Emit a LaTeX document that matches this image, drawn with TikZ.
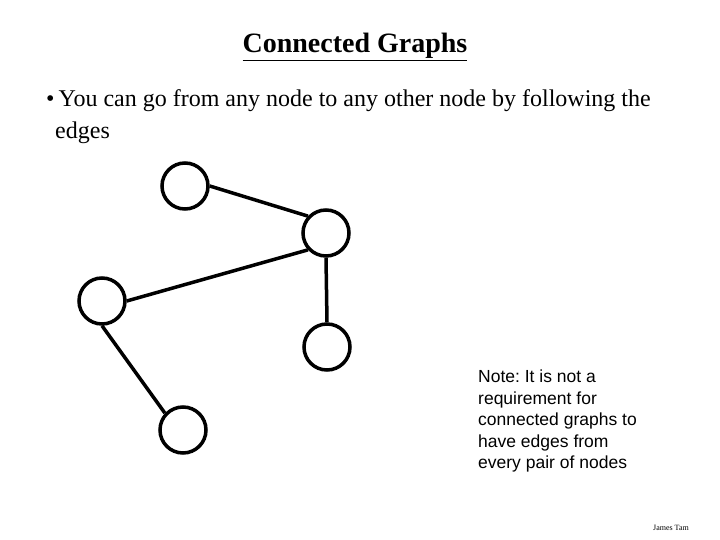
\documentclass[tikz,border=0pt]{standalone}
\usepackage{fontspec}
\setmainfont{Liberation Serif}
\newfontfamily\notefont{Liberation Sans}
\usetikzlibrary{positioning}
\frenchspacing

\begin{document}
\begin{tikzpicture}[x=1pt, y=-1pt,
    vertex/.style={draw, circle, line width=3.5pt, minimum size=46pt, inner sep=0pt},
    edge/.style={line width=3.5pt}]
    \useasboundingbox (0,0) rectangle (720,540);

    % Text
    \node[anchor=base] (title) at (355,53) {\fontsize{28}{32}\selectfont\bfseries\underline{Connected Graphs}};
    \node[anchor=base west, inner sep=0pt] (line1) at (46,107) {\fontsize{24}{28}\selectfont\textbullet\,You can go from any node to any other node by following the};
    \node[anchor=base west, inner sep=0pt] (line2) at (55,139) {\fontsize{24}{28}\selectfont edges};
    \node[anchor=north west, align=left, inner sep=0pt,
        font=\notefont\fontsize{17.5}{21.5}\selectfont] (note) at (478,370)
        {Note: It is not a\\requirement for\\connected graphs to\\have edges from\\every pair of nodes};
    \node[anchor=base, inner sep=0pt] (name) at (671,530) {\fontsize{8}{9}\selectfont James Tam};

    % Nodes
    \node[vertex] (top) at (185,186) {};
    \node[vertex] (rtop) at (326,233) {};
    \node[vertex] (left) at (102,301) {};
    \node[vertex] (rbot) at (327,347) {};
    \node[vertex] (bot) at (183,430) {};

    % Edges
    \draw[edge] (top.0) -- (rtop.137);
    \draw[edge] (left.0) -- (rtop.223);
    \draw[edge] (rtop.270) -- (rbot.90);
    \draw[edge] (left.270) -- (bot.137);
\end{tikzpicture}
\end{document}
